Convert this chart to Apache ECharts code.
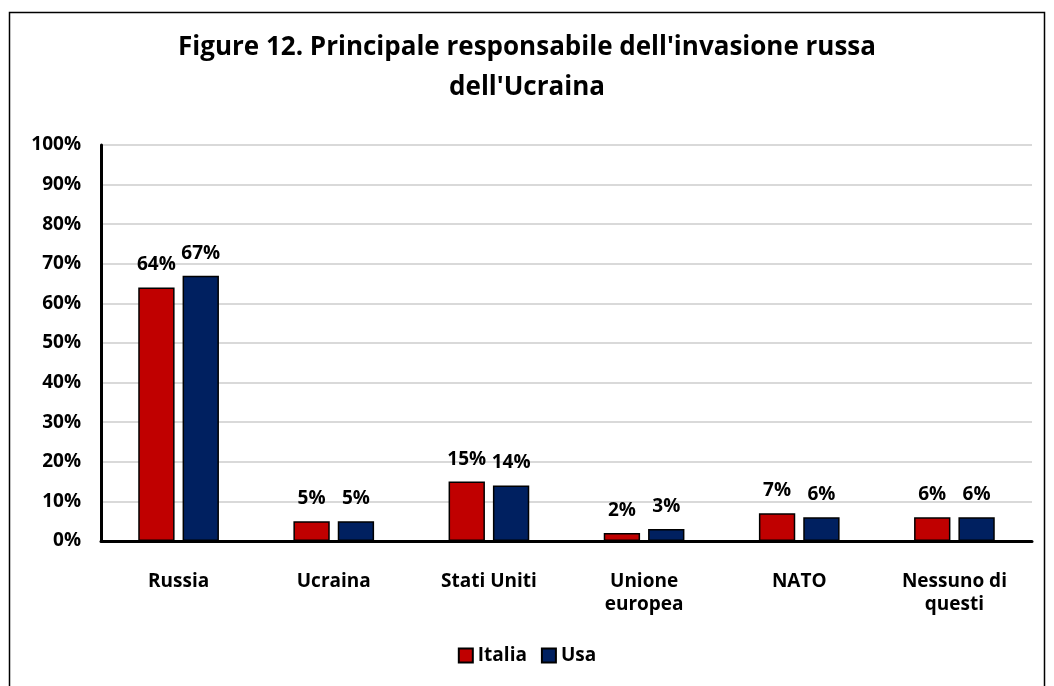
<!DOCTYPE html>
<html>
<head>
<meta charset="utf-8">
<script src="https://cdn.jsdelivr.net/npm/echarts@6/dist/echarts.min.js"></script>
<style>html,body{margin:0;padding:0;background:#fff;}#c{width:1054px;height:686px;}</style>
</head>
<body>
<div id="c"></div>
<script>
const categories = ['Russia', 'Ucraina', 'Stati Uniti', 'Unione\neuropea', 'NATO', 'Nessuno di\nquesti'];
const italia = [64, 5, 15, 2, 7, 6];
const usa = [67, 5, 14, 3, 6, 6];
const yTicks = [0, 10, 20, 30, 40, 50, 60, 70, 80, 90, 100];
const titleText = "Figure 12. Principale responsabile dell'invasione russa\ndell'Ucraina";

const FONT = '"Open Sans", "Noto Sans", sans-serif';
const chart = echarts.init(document.getElementById('c'), null, {renderer: 'canvas'});
const labelStyle = {
  show: true, position: 'top', distance: 13,
  formatter: p => p.value + '%',
  fontFamily: FONT, fontWeight: 'bold', fontSize: 19, color: '#000'
};
chart.setOption({
  animation: false,
  backgroundColor: '#fff',
  graphic: [{
    type: 'rect', shape: {x: 9.5, y: 12.5, width: 1035, height: 700},
    style: {fill: 'none', stroke: '#000', lineWidth: 1.5}, z: -1
  }],
  title: {
    text: titleText, left: 'center', top: 23,
    textStyle: {fontFamily: FONT, fontWeight: 'bold', fontSize: 26, lineHeight: 40, color: '#000'}
  },
  legend: {
    bottom: 16, left: 'center', itemWidth: 14, itemHeight: 14, itemGap: 14,
    icon: 'rect',
    textStyle: {fontFamily: FONT, fontWeight: 'bold', fontSize: 19, color: '#000'},
    data: ['Italia', 'Usa']
  },
  grid: {left: 101, right: 22, top: 145, bottom: 145, containLabel: false},
  xAxis: {
    type: 'category', data: categories,
    axisLine: {lineStyle: {color: '#000', width: 3}},
    axisTick: {show: false},
    axisLabel: {fontFamily: FONT, fontWeight: 'bold', fontSize: 19, color: '#000', margin: 29, lineHeight: 23}
  },
  yAxis: {
    type: 'value', min: 0, max: 100, interval: 10,
    axisLine: {show: true, lineStyle: {color: '#000', width: 3}},
    axisTick: {show: false},
    splitLine: {lineStyle: {color: '#D9D9D9', width: 2}},
    axisLabel: {
      fontFamily: FONT, fontWeight: 'bold', fontSize: 19, color: '#000', margin: 20,
      formatter: v => yTicks.includes(v) ? v + '%' : ''
    }
  },
  series: [
    {name: 'Italia', type: 'bar', data: italia, barGap: '22%', barCategoryGap: '48%',
     itemStyle: {color: '#C00000', borderColor: '#000', borderWidth: 1.5}, label: labelStyle},
    {name: 'Usa', type: 'bar', data: usa,
     itemStyle: {color: '#002060', borderColor: '#000', borderWidth: 1.5}, label: labelStyle}
  ]
});
</script>
</body>
</html>
